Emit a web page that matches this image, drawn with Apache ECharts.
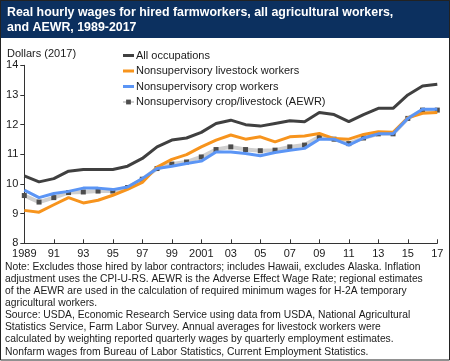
<!DOCTYPE html>
<html><head><meta charset="utf-8">
<script src="https://cdn.jsdelivr.net/npm/echarts@6/dist/echarts.min.js"></script>
<style>html,body{margin:0;padding:0;background:#fff}#c{width:450px;height:361px}</style>
</head><body><div id="c"></div>
<script>
const years = [1989,1990,1991,1992,1993,1994,1995,1996,1997,1998,1999,2000,2001,2002,2003,2004,2005,2006,2007,2008,2009,2010,2011,2012,2013,2014,2015,2016,2017];
const allOccupations = [10.27,10.07,10.18,10.43,10.49,10.49,10.49,10.60,10.86,11.25,11.48,11.55,11.74,12.04,12.15,12.00,11.95,12.04,12.13,12.10,12.41,12.34,12.10,12.34,12.55,12.55,13.00,13.30,13.36];
const livestock = [9.11,9.05,9.30,9.54,9.36,9.45,9.62,9.82,10.05,10.57,10.83,10.99,11.25,11.48,11.65,11.51,11.59,11.42,11.59,11.62,11.70,11.53,11.51,11.67,11.76,11.74,12.23,12.38,12.41];
const crop = [9.79,9.54,9.68,9.75,9.86,9.86,9.81,9.90,10.18,10.52,10.60,10.69,10.77,11.08,11.08,11.03,10.95,11.06,11.14,11.20,11.51,11.51,11.31,11.55,11.69,11.69,12.21,12.52,12.52];
const aewr = [9.61,9.39,9.54,9.71,9.73,9.76,9.76,9.88,10.16,10.52,10.67,10.74,10.91,11.16,11.25,11.16,11.12,11.14,11.25,11.31,11.59,11.51,11.36,11.55,11.69,11.69,12.21,12.49,12.49];
const seriesNames = ["All occupations","Nonsupervisory livestock workers","Nonsupervisory crop workers","Nonsupervisory crop/livestock (AEWR)"];
const titleLines = ["Real hourly wages for hired farmworkers, all agricultural workers,","and AEWR, 1989-2017"];
const yAxisTitle = "Dollars (2017)";
const noteLines = [
"Note: Excludes those hired by labor contractors; includes Hawaii, excludes Alaska. Inflation",
"adjustment uses the CPI-U-RS. AEWR is the Adverse Effect Wage Rate; regional estimates",
"of the AEWR are used in the calculation of required minimum wages for H-2A temporary",
"agricultural workers.",
"Source: USDA, Economic Research Service using data from USDA, National Agricultural",
"Statistics Service, Farm Labor Survey. Annual averages for livestock workers were",
"calculated by weighting reported quarterly wages by quarterly employment estimates.",
"Nonfarm wages from Bureau of Labor Statistics, Current Employment Statistics."
];

const pair = arr => years.map((y,i)=>[y,arr[i]]);
const FONT = "Liberation Sans, Arial, sans-serif";
const FS = 11;
const chart = echarts.init(document.getElementById('c'), null, {renderer:'canvas'});
chart.setOption({
  animation:false,
  textStyle:{fontFamily:FONT},
  grid:{left:24.3,right:12.7,top:65.3,bottom:117.7,containLabel:false},
  legend:{
    orient:'vertical', left:117, top:45, itemGap:4.5, itemWidth:11, itemHeight:6,
    textStyle:{fontFamily:FONT,fontSize:FS,color:'#1a1a1a',padding:[0,0,0,-3]},
    data:[
      {name:seriesNames[0],icon:'path://M0,0 L11,0 L11,3 L0,3 Z'},
      {name:seriesNames[1],icon:'path://M0,0 L11,0 L11,3 L0,3 Z'},
      {name:seriesNames[2],icon:'path://M0,0 L11,0 L11,3 L0,3 Z'},
      {name:seriesNames[3]}
    ]
  },
  xAxis:{
    type:'value', min:1989, max:2017, interval:2,
    axisLine:{lineStyle:{color:'#333',width:1}},
    axisTick:{inside:true,length:4,lineStyle:{color:'#333'}},
    splitLine:{show:false},
    axisLabel:{color:'#1a1a1a',fontSize:FS,fontFamily:FONT,margin:5,
      formatter:v=> (v===1989||v===2001)? String(v) : String(v%100).padStart(2,'0')}
  },
  yAxis:{
    type:'value', min:8, max:14, interval:1,
    axisLine:{show:true,lineStyle:{color:'#333',width:1}},
    axisTick:{show:true,length:4,lineStyle:{color:'#333'}},
    splitLine:{show:false},
    axisLabel:{color:'#1a1a1a',fontSize:FS,fontFamily:FONT,margin:6}
  },
  series:[
    {name:seriesNames[0],type:'line',data:pair(allOccupations),symbol:'none',lineStyle:{color:'#404040',width:3},itemStyle:{color:'#404040'},z:5},
    {name:seriesNames[1],type:'line',data:pair(livestock),symbol:'none',lineStyle:{color:'#f7941d',width:3},itemStyle:{color:'#f7941d'},z:3},
    {name:seriesNames[2],type:'line',data:pair(crop),symbol:'none',lineStyle:{color:'#5b95f5',width:3},itemStyle:{color:'#5b95f5'},z:4},
    {name:seriesNames[3],type:'line',data:pair(aewr),symbol:'rect',symbolSize:5,showSymbol:true,lineStyle:{color:'#cfcfcf',width:4},itemStyle:{color:'#4d4d4d',borderWidth:0},z:2}
  ],
  graphic:[
    {type:'rect',shape:{x:0,y:0,width:450,height:38},style:{fill:'#0c305f'},z:-1},
    {type:'text',left:7,top:5,style:{text:titleLines.join('\n'),fill:'#fff',font:'bold 12.4px '+FONT,lineHeight:15}},
    {type:'text',left:7,top:48,style:{text:yAxisTitle,fill:'#1a1a1a',font:FS+'px '+FONT}},
    {type:'text',left:5,top:261,style:{text:noteLines.join('\n'),fill:'#1a1a1a',font:'10.3px '+FONT,lineHeight:12.1}},
    {type:'rect',shape:{x:0.5,y:0.5,width:449,height:359.5},style:{fill:null,stroke:'#222',lineWidth:1},z:10}
  ]
});
</script></body></html>
